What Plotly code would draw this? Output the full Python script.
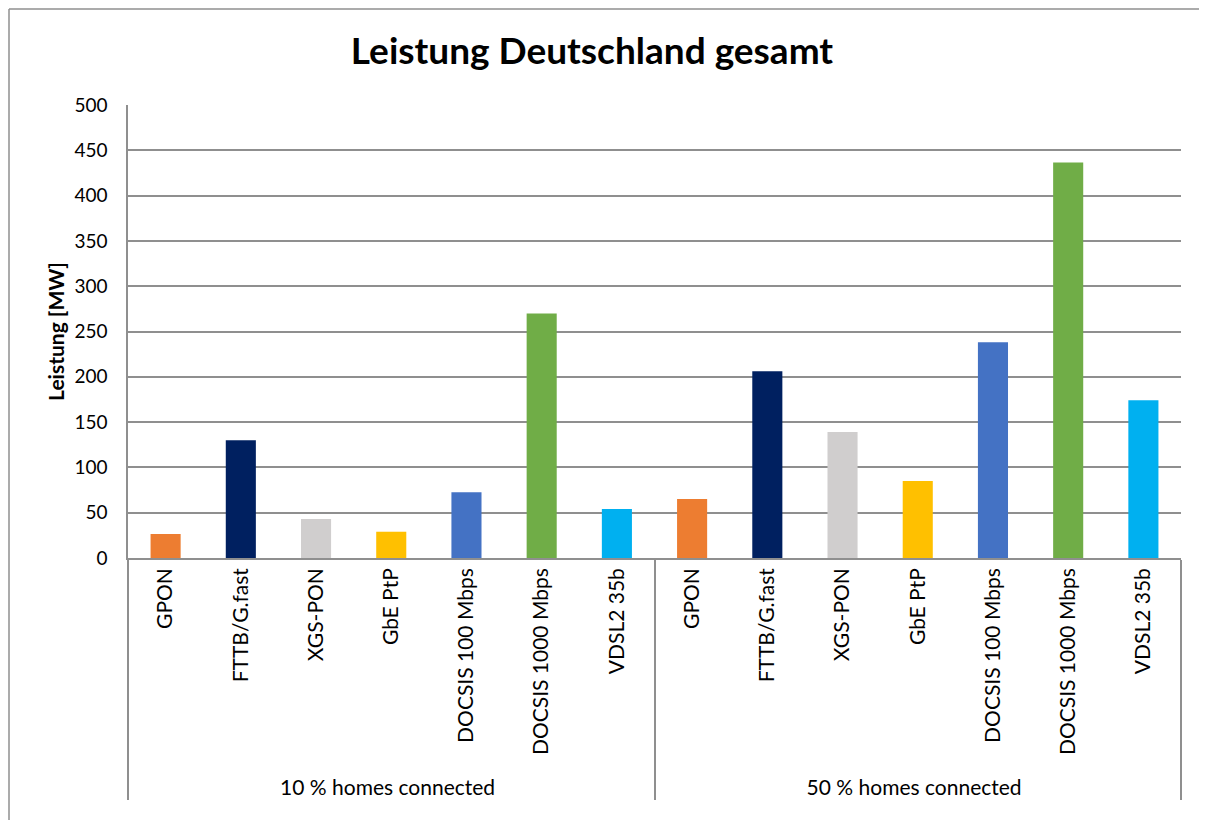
import plotly.graph_objects as go

groups = ["10 % homes connected", "50 % homes connected"]
technologies = ["GPON", "FTTB/G.fast", "XGS-PON", "GbE PtP",
                "DOCSIS 100 Mbps", "DOCSIS 1000 Mbps", "VDSL2 35b"]
values_10 = [26.5, 130, 43, 29, 72.5, 270, 54]
values_50 = [65, 206, 139, 85, 238, 436.5, 174]
colors = ["#ED7D31", "#002060", "#D0CECE", "#FFC000", "#4472C4", "#70AD47", "#00B0F0"]

FONT = "Lato, 'Open Sans', sans-serif"

x_outer = [groups[0]] * len(technologies) + [groups[1]] * len(technologies)
x_inner = technologies + technologies
y_vals = values_10 + values_50

ML, MT, PW, PH = 120, 97, 1053, 453
W, H = 1207, 820

fig = go.Figure()
fig.add_trace(go.Bar(
    x=[x_outer, x_inner],
    y=y_vals,
    marker=dict(color=colors + colors, line=dict(width=0)),
    showlegend=False,
))

fig.update_layout(
    width=W, height=H,
    paper_bgcolor="white", plot_bgcolor="white",
    margin=dict(l=ML, r=W - ML - PW, t=MT, b=H - MT - PH),
    bargap=0.6,
    title=dict(text="<b>Leistung Deutschland gesamt</b>", xref="container",
               x=584 / W, xanchor="center",
               y=1 - 43 / H, yanchor="middle",
               font=dict(family=FONT, size=37, color="black")),
    font=dict(family=FONT, color="black"),
    xaxis=dict(
        type="multicategory",
        tickangle=-90,
        tickfont=dict(size=21, color="black"),
        showline=True, linecolor="#8f8f8f", linewidth=1.5,
        showdividers=True, dividercolor="#8f8f8f", dividerwidth=1.5,
        ticks="", showgrid=False,
    ),
    yaxis=dict(
        range=[0, 500], dtick=50, tick0=0,
        showgrid=True, gridcolor="#8f8f8f", gridwidth=1.5,
        showline=True, linecolor="#8f8f8f", linewidth=1.5,
        zeroline=False, ticks="", ticklen=0,
        ticklabelstandoff=15,
        tickfont=dict(size=19, color="black"),
        title=dict(text="<b>Leistung [MW]</b>", font=dict(size=21, color="black"), standoff=4),
    ),
    shapes=[
        dict(type="line", xref="paper", yref="paper",
             x0=-(ML - 1) / PW, x1=1.1, y0=1 + (MT - 1) / PH, y1=1 + (MT - 1) / PH,
             line=dict(color="#8f8f8f", width=1.5)),
        dict(type="line", xref="paper", yref="paper",
             x0=-(ML - 1) / PW, x1=-(ML - 1) / PW, y0=1 + (MT - 1) / PH, y1=-0.7,
             line=dict(color="#8f8f8f", width=1.5)),
    ],
)

fig.write_html("out.html")
